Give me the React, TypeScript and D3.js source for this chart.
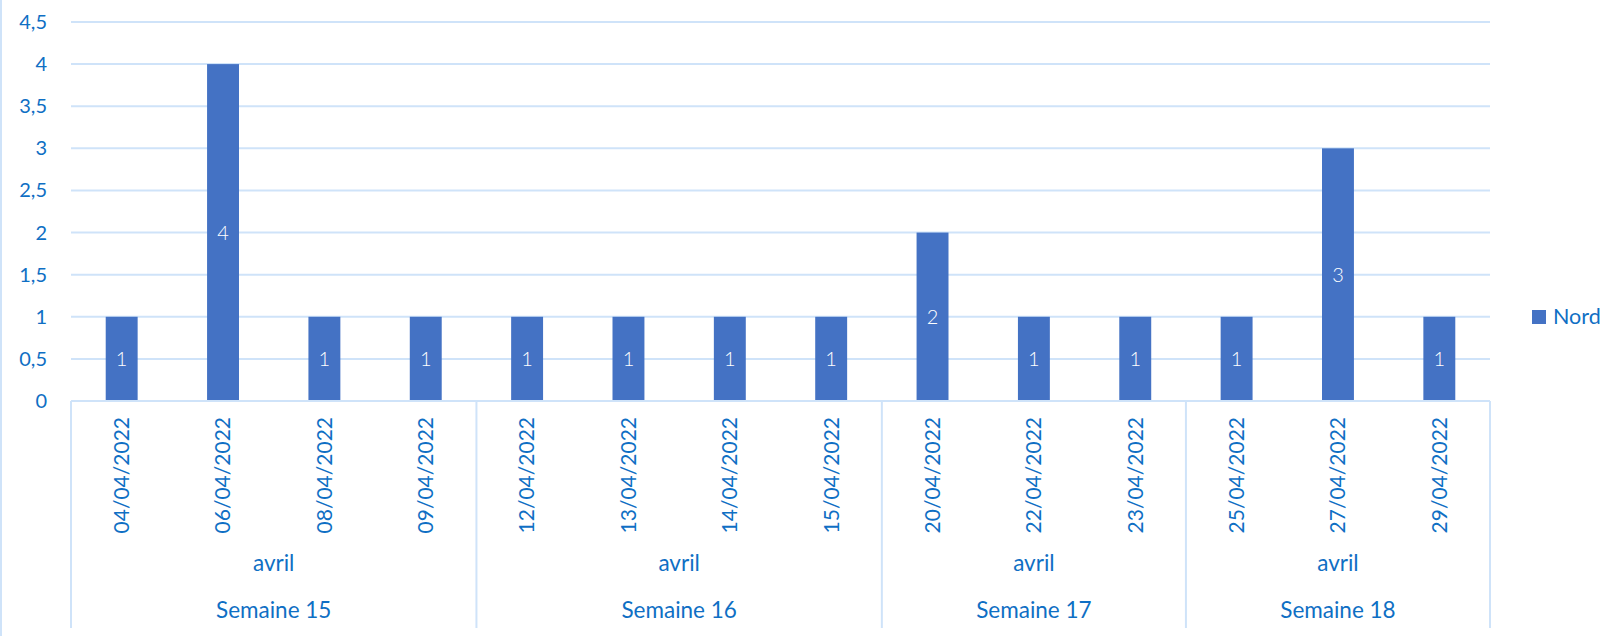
import * as React from 'react';
import * as d3 from 'd3';

// données
const DATES = [
  '04/04/2022', '06/04/2022', '08/04/2022', '09/04/2022',
  '12/04/2022', '13/04/2022', '14/04/2022', '15/04/2022',
  '20/04/2022', '22/04/2022', '23/04/2022',
  '25/04/2022', '27/04/2022', '29/04/2022',
];
const NORD = [1, 4, 1, 1, 1, 1, 1, 1, 2, 1, 1, 1, 3, 1];
const WEEK_OF_DATE = [
  'Semaine 15', 'Semaine 15', 'Semaine 15', 'Semaine 15',
  'Semaine 16', 'Semaine 16', 'Semaine 16', 'Semaine 16',
  'Semaine 17', 'Semaine 17', 'Semaine 17',
  'Semaine 18', 'Semaine 18', 'Semaine 18',
];
const WEEKS = ['Semaine 15', 'Semaine 16', 'Semaine 17', 'Semaine 18'];
const MONTH = 'avril';
const Y_TICKS = [0, 0.5, 1, 1.5, 2, 2.5, 3, 3.5, 4, 4.5];
const SERIES_NAME = 'Nord';

const BAR = '#4472C4';
const TEXT = '#0f6fc4';
const GRID = '#cfe3f9';
const FONT = 'Lato, "Noto Sans", sans-serif';

export default function App() {
  const svgRef = React.useRef<SVGSVGElement | null>(null);
  const width = 1606;
  const height = 636;

  React.useEffect(() => {
    document.body.style.margin = '0';
    if (!svgRef.current) return;
    const margin = { top: 22, left: 71, right: 116, bottom: 235 };
    const plotBottom = height - margin.bottom;

    const x = d3
      .scaleBand<string>()
      .domain(DATES)
      .range([margin.left, width - margin.right])
      .paddingInner(0.685)
      .paddingOuter(0.3425);
    const step = x.step();
    const y = d3.scaleLinear().domain([0, 4.5]).range([plotBottom, margin.top]);

    const svg = d3.select(svgRef.current);
    svg.selectAll('*').remove();
    svg.attr('font-family', FONT);

    // bord gauche
    svg.append('line')
      .attr('x1', 1).attr('x2', 1).attr('y1', 0).attr('y2', height)
      .attr('stroke', GRID).attr('stroke-width', 2);

    // grille
    svg.append('g')
      .selectAll('line')
      .data(Y_TICKS.filter((t) => t > 0))
      .join('line')
      .attr('x1', margin.left)
      .attr('x2', width - margin.right)
      .attr('y1', (d) => y(d))
      .attr('y2', (d) => y(d))
      .attr('stroke', GRID)
      .attr('stroke-width', 2);

    // étiquettes axe y
    svg.append('g')
      .selectAll('text')
      .data(Y_TICKS)
      .join('text')
      .attr('x', 47)
      .attr('y', (d) => y(d))
      .attr('dy', '0.35em')
      .attr('text-anchor', 'end')
      .attr('font-size', 20)
      .attr('fill', TEXT)
      .text((d) => d3.format('~g')(d).replace('.', ','));

    // barres
    svg.append('g')
      .selectAll('rect')
      .data(NORD)
      .join('rect')
      .attr('x', (_, i) => x(DATES[i]) as number)
      .attr('width', x.bandwidth())
      .attr('y', (d) => y(d))
      .attr('height', (d) => plotBottom - y(d))
      .attr('fill', BAR);

    // valeurs
    svg.append('g')
      .selectAll('text')
      .data(NORD)
      .join('text')
      .attr('x', (_, i) => (x(DATES[i]) as number) + x.bandwidth() / 2)
      .attr('y', (d) => (y(d) + plotBottom) / 2)
      .attr('dy', '0.35em')
      .attr('text-anchor', 'middle')
      .attr('font-size', 20)
      .attr('font-weight', 300)
      .attr('fill', '#ffffff')
      .text((d) => String(d));

    // axe des catégories
    svg.append('line')
      .attr('x1', margin.left).attr('x2', width - margin.right)
      .attr('y1', plotBottom).attr('y2', plotBottom)
      .attr('stroke', GRID).attr('stroke-width', 2);

    // séparateurs de semaines
    const groupStart = (w: string) => WEEK_OF_DATE.indexOf(w);
    const groupEnd = (w: string) => WEEK_OF_DATE.lastIndexOf(w) + 1;
    const bounds = [0, ...WEEKS.map((w) => groupEnd(w))];
    svg.append('g')
      .selectAll('line')
      .data(bounds)
      .join('line')
      .attr('x1', (d) => margin.left + d * step)
      .attr('x2', (d) => margin.left + d * step)
      .attr('y1', plotBottom)
      .attr('y2', 628)
      .attr('stroke', GRID)
      .attr('stroke-width', 2);

    // dates (verticales)
    svg.append('g')
      .selectAll('text')
      .data(DATES)
      .join('text')
      .attr('transform', (d) => `translate(${(x(d) as number) + x.bandwidth() / 2},417) rotate(-90)`)
      .attr('dy', '0.35em')
      .attr('text-anchor', 'end')
      .attr('font-size', 21)
      .attr('fill', TEXT)
      .text((d) => d);

    // mois et semaines
    const groups = svg.append('g')
      .selectAll('g')
      .data(WEEKS)
      .join('g');
    const cx = (w: string) => margin.left + ((groupStart(w) + groupEnd(w)) / 2) * step;
    groups.append('text')
      .attr('x', (w) => cx(w))
      .attr('y', 571)
      .attr('text-anchor', 'middle')
      .attr('font-size', 22.5)
      .attr('fill', TEXT)
      .text(MONTH);
    groups.append('text')
      .attr('x', (w) => cx(w))
      .attr('y', 618)
      .attr('text-anchor', 'middle')
      .attr('font-size', 22.5)
      .attr('fill', TEXT)
      .text((w) => w);

    // légende
    const legend = svg.append('g').attr('transform', 'translate(1532,310)');
    legend.append('rect').attr('width', 14).attr('height', 14).attr('fill', BAR);
    legend.append('text')
      .attr('x', 21)
      .attr('y', 14)
      .attr('font-size', 21.5)
      .attr('fill', TEXT)
      .text(SERIES_NAME);
  }, []);

  return <svg ref={svgRef} width={width} height={height} style={{ display: 'block', background: '#fff' }} />;
}
